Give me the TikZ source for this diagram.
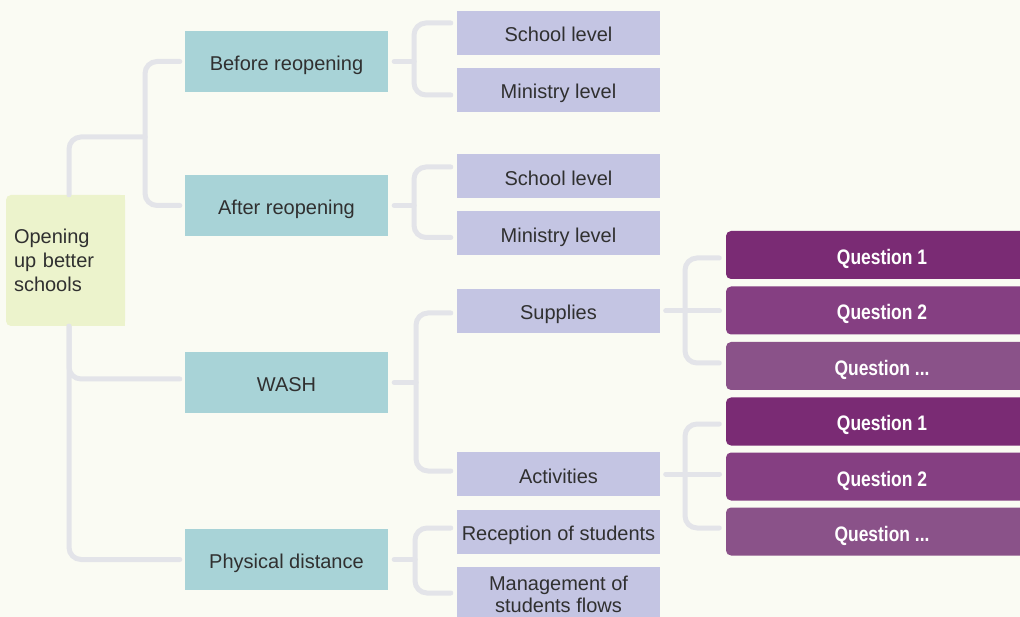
\documentclass[tikz,border=0pt]{standalone}
\usepackage{fontspec}
\setmainfont{Liberation Sans}
\newfontfamily\qfont{Liberation Sans}[FakeStretch=0.83]
\definecolor{bgc}{HTML}{FAFBF3}
\definecolor{rootc}{HTML}{ECF3CC}
\definecolor{tealc}{HTML}{A8D3D7}
\definecolor{lavc}{HTML}{C4C5E3}
\definecolor{qonec}{HTML}{7A2B74}
\definecolor{qtwoc}{HTML}{853F82}
\definecolor{qdotc}{HTML}{8A5289}
\definecolor{linec}{HTML}{E3E4E9}
\definecolor{txtc}{HTML}{303030}
\begin{document}
\begin{tikzpicture}[x=1pt,y=-1pt,
  base/.style={inner sep=0pt, font=\fontsize{20}{24}\selectfont, text=txtc},
  single/.style={base, text height=18pt, text depth=0pt},
  tealbox/.style={single, fill=tealc, minimum width=203pt, minimum height=61pt},
  lavbox/.style={single, fill=lavc, minimum width=203pt, minimum height=44pt},
  qbox/.style={fill=#1, rounded corners=5pt, minimum width=312pt, minimum height=48pt,
    inner sep=0pt, text=white, font=\qfont\bfseries\fontsize{21}{24}\selectfont,
    text height=19pt, text depth=0pt},
  rootbox/.style={base, fill=rootc, rounded corners=5pt, minimum width=119pt,
    minimum height=131pt, text width=103pt, inner xsep=8pt, inner ysep=0pt, align=left},
  conn/.style={draw=linec, line width=5pt, line cap=round, rounded corners=12pt}]
\clip (0,0) rectangle (1020,617);
\fill[bgc] (0,0) rectangle (1020,617);

% nodes
\node[rootbox] (root) at (65.5,260.5) {Opening\\up better\\schools};
\fill[rootc] ([xshift=-8pt]root.north east) rectangle (root.south east);

\node[tealbox] (before) at (286.5,61.5) {Before reopening};
\node[tealbox] (after)  at (286.5,205.5) {After reopening};
\node[tealbox] (wash)   at (286.5,382.5) {WASH};
\node[tealbox] (phys)   at (286.5,559.5) {Physical distance};

\node[lavbox] (sl1) at (558.5,33) {School level};
\node[lavbox] (ml1) at (558.5,90) {Ministry level};
\node[lavbox] (sl2) at (558.5,176.5) {School level};
\node[lavbox] (ml2) at (558.5,233.5) {Ministry level};
\node[lavbox] (sup) at (558.5,311) {Supplies};
\node[lavbox] (act) at (558.5,474) {Activities};
\node[lavbox] (rec) at (558.5,531.5) {Reception of students};
\node[base, fill=lavc, minimum width=203pt, minimum height=54pt, align=center,
  font=\fontsize{20}{22}\selectfont] (man) at (558.5,594) {Management of\\students flows};

\node[qbox=qonec] (q1a) at (882,255) {Question 1};
\node[qbox=qtwoc] (q2a) at (882,310.5) {Question 2};
\node[qbox=qdotc] (qda) at (882,366) {Question ...};
\node[qbox=qonec] (q1b) at (882,421.5) {Question 1};
\node[qbox=qtwoc] (q2b) at (882,476.5) {Question 2};
\node[qbox=qdotc] (qdb) at (882,531.5) {Question ...};

% junction coordinates
\coordinate (jA) at (145,137);
\coordinate (jB) at (414,0);
\coordinate (jC) at (416,0);
\coordinate (jP) at (415,0);
\coordinate (jD) at (685,0);
\coordinate (jE) at (719.5,0);

% root connectors
\draw[conn] ([xshift=3.5pt]root.north) |- (jA);
\draw[conn] ([xshift=-5pt]before.west) -| (jA) |- ([xshift=-5pt]after.west);
\draw[conn] ([xshift=3.5pt]root.south) |- ([xshift=-5pt]phys.west);
\draw[conn] ([xshift=3.5pt]root.south) |- ([xshift=-5pt,yshift=3.5pt]wash.west);

% teal to lavender
\draw[conn] ([xshift=6pt]before.east) -- (before.east -| jB);
\draw[conn] ([xshift=-6pt,yshift=10pt]sl1.west) -| (before.east -| jB) |- ([xshift=-6pt,yshift=-5pt]ml1.west);
\draw[conn] ([xshift=6pt]after.east) -- (after.east -| jB);
\draw[conn] ([xshift=-6pt,yshift=9.5pt]sl2.west) -| (after.east -| jB) |- ([xshift=-6pt,yshift=-4pt]ml2.west);
\draw[conn] ([xshift=6pt]wash.east) -- (wash.east -| jC);
\draw[conn] ([xshift=-6pt,yshift=-2pt]sup.west) -| (wash.east -| jC) |- ([xshift=-6pt,yshift=3pt]act.west);
\draw[conn] ([xshift=6pt]phys.east) -- (phys.east -| jP);
\draw[conn] ([xshift=-6pt,yshift=3.5pt]rec.west) -| (phys.east -| jP) |- ([xshift=-6pt,yshift=1pt]man.west);

% lavender to questions
\draw[conn] ([xshift=5.5pt]sup.east) -- (sup.east -| jE);
\draw[conn] ([xshift=-6.5pt,yshift=-3pt]q1a.west) -| (sup.east -| jD) |- ([xshift=-6.5pt,yshift=3pt]qda.west);
\draw[conn] ([xshift=5.5pt]act.east) -- (act.east -| jE);
\draw[conn] ([xshift=-6.5pt,yshift=-2.5pt]q1b.west) -| (act.east -| jD) |- ([xshift=-6.5pt,yshift=3.5pt]qdb.west);
\end{tikzpicture}
\end{document}
